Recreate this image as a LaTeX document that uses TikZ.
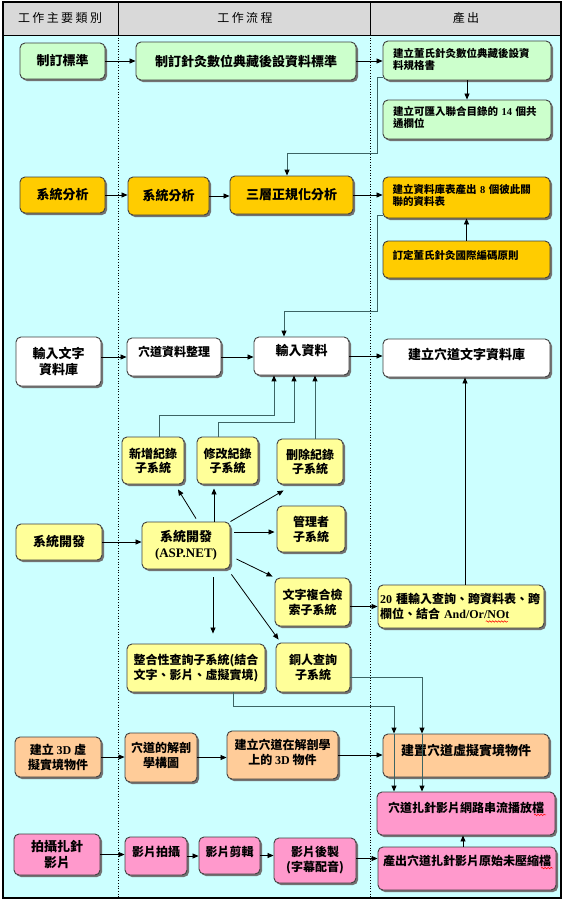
\documentclass[tikz,border=0pt]{standalone}
\usepackage{fontspec}
\setmainfont{Liberation Serif}
\newfontfamily\cjk{Noto Sans CJK TC}
\newfontfamily\lat{Liberation Serif}
\newfontfamily\hdr[LetterSpace=20]{Noto Sans CJK TC}
\usetikzlibrary{arrows.meta,fit,shadows,decorations.pathmorphing}
\definecolor{bgcyan}{HTML}{CCFFFF}
\definecolor{hdrgray}{HTML}{D9D9D9}
\definecolor{cgreen}{HTML}{CCFFCC}
\definecolor{corange}{HTML}{FFCC00}
\definecolor{cyellow}{HTML}{FFFF99}
\definecolor{cpeach}{HTML}{FFCC99}
\definecolor{cpink}{HTML}{FF99CC}
\definecolor{elbow}{HTML}{3C6464}
\tikzset{
 boxst/.style={draw=black!75, line width=0.9pt, rounded corners=5pt, inner sep=0pt,
   drop shadow={shadow xshift=2pt, shadow yshift=-2pt, opacity=1, fill=black!55}},
 tx/.style={font=\cjk\bfseries\fontsize{13}{16}\selectfont, align=center, inner sep=0pt},
 ts/.style={font=\cjk\bfseries\fontsize{12}{15}\selectfont, align=center, inner sep=0pt},
 tsub/.style={font=\cjk\bfseries\fontsize{12}{14}\selectfont, align=center, inner sep=0pt},
 tout/.style={font=\cjk\bfseries\fontsize{10.5}{12.5}\selectfont, align=left, inner sep=0pt},
 hdrst/.style={font=\hdr\fontsize{12}{14}\selectfont, inner sep=0pt},
 arr/.style={-{Triangle[length=6pt,width=5pt,color=black]}, line width=0.8pt, draw=black},
 elb/.style={arr, draw=elbow, line width=1pt},
 wavy/.style={draw=red, line width=0.5pt, decorate, decoration={snake, amplitude=0.8pt, segment length=3pt}},
}
\newcommand\bx[9]{%
 \node[boxst,fill=#6,fit={(#2,#3)(#4,#5)}] (#1) {};
 \node[#7] (#1t) at ([yshift=#8pt]#1.center) {#9};}
\begin{document}
\begin{tikzpicture}[x=1pt,y=-1pt]
\useasboundingbox (0,0) rectangle (565,902);
% frame
\fill[hdrgray] (3,2) rectangle (561,35);
\fill[bgcyan] (3,35) rectangle (561,898);
\draw[line width=0.8pt] (3,35) -- (561,35);
\draw[line width=0.8pt] (118,2) -- (118,35);
\draw[line width=0.8pt] (370,2) -- (370,35);
\draw[dotted, line width=0.7pt] (118,35) -- (118,898);
\draw[dotted, line width=0.7pt] (370,35) -- (370,898);
\draw[line width=1.3pt] (3,2) rectangle (561,898);
\node[hdrst] (h1) at (60,18) {工作主要類別};
\node[hdrst] (h2) at (245,18) {工作流程};
\node[hdrst] (h3) at (466,18) {產出};
% row 1
\bx{a1}{20}{43}{105}{79}{cgreen}{tx}{0}{制訂標準}
\bx{a2}{136}{42}{356}{80}{cgreen}{tx}{0}{制訂針灸數位典藏後設資料標準}
\bx{a3}{383}{41}{551}{80}{cgreen}{tout,text width=148pt}{1}{建立董氏針灸數位典藏後設資\\料規格書}
\bx{a4}{383}{100}{551}{139}{cgreen}{tout,text width=148pt}{2}{建立可匯入聯合目錄的 {\lat 14} 個共\\通欄位}
% row 2
\bx{b1}{20}{177}{105}{213}{corange}{tx}{0}{系統分析}
\bx{b2}{128}{177}{209}{215}{corange}{tx}{0}{系統分析}
\bx{b3}{230}{176}{353}{214}{corange}{tx}{0}{三層正規化分析}
\bx{b4}{383}{177}{550}{218}{corange}{tout,text width=148pt}{2}{建立資料庫表產出 {\lat 8} 個彼此關\\聯的資料表}
\bx{b5}{383}{241}{550}{278}{corange}{tout,text width=148pt}{4}{訂定董氏針灸國際編碼原則}
% row 3
\bx{c1}{16}{337}{101}{386}{white}{tx}{0}{輸入文字\\資料庫}
\bx{c2}{127}{338}{221}{376}{white}{ts}{5}{穴道資料整理}
\bx{c3}{254}{337}{349}{375}{white}{tx}{5}{輸入資料}
\bx{c4}{383}{339}{550}{377}{white}{tx}{4}{建立穴道文字資料庫}
\bx{d1}{122}{437}{184}{484}{cyellow}{tsub}{0}{新增紀錄\\子系統}
\bx{d2}{197}{437}{258}{484}{cyellow}{tsub}{0}{修改紀錄\\子系統}
\bx{d3}{277}{439}{343}{484}{cyellow}{tsub}{0}{刪除紀錄\\子系統}
% row 4
\bx{e1}{16}{524}{102}{560}{cyellow}{tx}{0}{系統開發}
\bx{e2}{142}{522}{230}{569}{cyellow}{tx}{0}{系統開發\\{\lat (ASP.NET)}}
\bx{e3}{277}{506}{345}{552}{cyellow}{ts}{0}{管理者\\子系統}
\bx{e4}{275}{578}{350}{626}{cyellow}{ts}{0}{文字複合檢\\索子系統}
\bx{e5}{378}{585}{544}{628}{cyellow}{ts,align=left,text width=162pt}{0}{{\lat 20} 種輸入查詢、跨資料表、跨\\欄位、結合 {\lat And/Or/NOt}}
\bx{e6}{127}{644}{265}{692}{cyellow}{ts}{0}{整合性查詢子系統(結合\\文字、影片、虛擬實境)}
\bx{e7}{276}{643}{350}{692}{cyellow}{ts}{0}{銅人查詢\\子系統}
% row 5
\bx{f1}{15}{737}{101}{777}{cpeach}{ts}{0}{建立 {\lat 3D} 虛\\擬實境物件}
\bx{f2}{125}{733}{197}{782}{cpeach}{ts}{2}{穴道的解剖\\學構圖}
\bx{f3}{227}{731}{338}{779}{cpeach}{ts}{3}{建立穴道在解剖學\\上的 {\lat 3D} 物件}
\bx{f4}{383}{734}{549}{777}{cpeach}{tx}{5}{建置穴道虛擬實境物件}
% row 6
\bx{g0}{377}{792}{555}{835}{cpink}{ts}{6}{穴道扎針影片網路串流播放檔}
\bx{g1}{14}{834}{100}{875}{cpink}{tx}{0}{拍攝扎針\\影片}
\bx{g2}{125}{837}{187}{875}{cpink}{ts}{4}{影片拍攝}
\bx{g3}{199}{837}{260}{874}{cpink}{ts}{4}{影片剪輯}
\bx{g4}{274}{838}{356}{883}{cpink}{ts}{0}{影片後製\\(字幕配音)}
\bx{g5}{378}{847}{556}{890}{cpink}{ts}{8}{產出穴道扎針影片原始未壓縮檔}
% spell-check waves
\draw[wavy] ([xshift=106pt,yshift=-1.5pt]e5t.south west) -- ++(22,0);
\draw[wavy] ([xshift=-10pt,yshift=-1.5pt]g0t.south east) -- ++(12,0);
\draw[wavy] ([xshift=-10pt,yshift=-1.5pt]g5t.south east) -- ++(12,0);
% connectors row 1
\draw[arr] (a1.east) -- (a1.east -| a2.west);
\draw[arr] (a2.east) -- (a2.east -| a3.west);
\draw[arr] (a3.south) -- (a4.north);
\draw[elb] ([yshift=3pt]a3.south west) -| (377,153) -| ([xshift=-4.5pt]b3.north);
% row 2
\draw[arr] (b1.east) -- (b1.east -| b2.west);
\draw[arr] (b2.east) -- (b2.east -| b3.west);
\draw[arr] (b3.east) -- (b3.east -| b4.west);
\draw[arr] (b5.north) -- (b4.south);
\draw[elb] ([yshift=3pt]b4.south west) -| (377,311) -| ([xshift=-17.5pt]c3.north);
% row 3
\draw[arr] (c1.east |- c2.west) -- (c2.west);
\draw[arr] (c2.east) -- (c2.east -| c3.west);
\draw[arr] (c3.east) -- (c3.east -| c4.west);
\draw[elb] ([xshift=6pt]d1.north) -- ++(0,-21) -| ([xshift=-27.5pt]c3.south);
\draw[elb] ([xshift=-9.5pt]d2.north) -- ++(0,-14) -| ([xshift=-7.5pt]c3.south);
\draw[elb] ([xshift=5pt]d3.north) -- ([xshift=5pt]d3.north |- c3.south);
% row 4
\draw[arr] (e1.east) -- (e1.east -| e2.west);
\draw[arr] ([xshift=10pt,yshift=3pt]e2.north) -- ([xshift=25pt,yshift=-5pt]d1.south);
\draw[arr] ([xshift=28pt]e2.north) -- ([xshift=-13.5pt,yshift=-4pt]d2.south);
\draw[arr] (e2.north east) -- ([xshift=7pt,yshift=-6pt]d3.south west);
\draw[arr] ([xshift=4pt,yshift=13.5pt]e2.east) -- ([xshift=-2pt,yshift=-3pt]e3.west);
\draw[arr] ([xshift=6pt,yshift=-13.5pt]e2.east) -- ([xshift=-2pt,yshift=1pt]e4.north west);
\draw[arr] ([xshift=27pt,yshift=-8pt]e2.south) -- ([xshift=17pt,yshift=10pt]e6.north);
\draw[arr] ([xshift=1pt,yshift=-5pt]e2.south east) -- ([xshift=3pt,yshift=3pt]e7.north west);
\draw[arr] (e4.east |- e5.west) -- (e5.west);
\draw[arr] ([xshift=4pt]e5.north) -- ([xshift=4pt]e5.north |- c4.south);
% to row 5/6 outputs
\coordinate (k1) at (422,677);
\coordinate (k2) at (394,706);
\draw[elb] (e7.east |- k1) -- (k1) -- (k1 |- f4.north);
\draw[elb] (k1 |- f4.north) -- (k1 |- g0.north);
\draw[elb] ([xshift=37pt]e6.south) |- (k2) -- (k2 |- f4.north);
\draw[elb] (k2 |- f4.north) -- (k2 |- g0.north);
% row 5
\draw[arr] (f1.east) -- (f1.east -| f2.west);
\draw[arr] (f2.east) -- (f2.east -| f3.west);
\draw[arr] (f3.east) -- (f3.east -| f4.west);
% row 6
\draw[arr] (g1.east) -- (g1.east -| g2.west);
\draw[arr] (g2.east) -- (g2.east -| g3.west);
\draw[arr] (g3.east) -- (g3.east -| g4.west);
\draw[arr] ([yshift=2pt]g4.east) -- ([yshift=2pt]g4.east -| g5.west);
\draw[arr] ([xshift=-4pt]g5.north) -- ([xshift=-4pt]g5.north |- g0.south);
\end{tikzpicture}
\end{document}
